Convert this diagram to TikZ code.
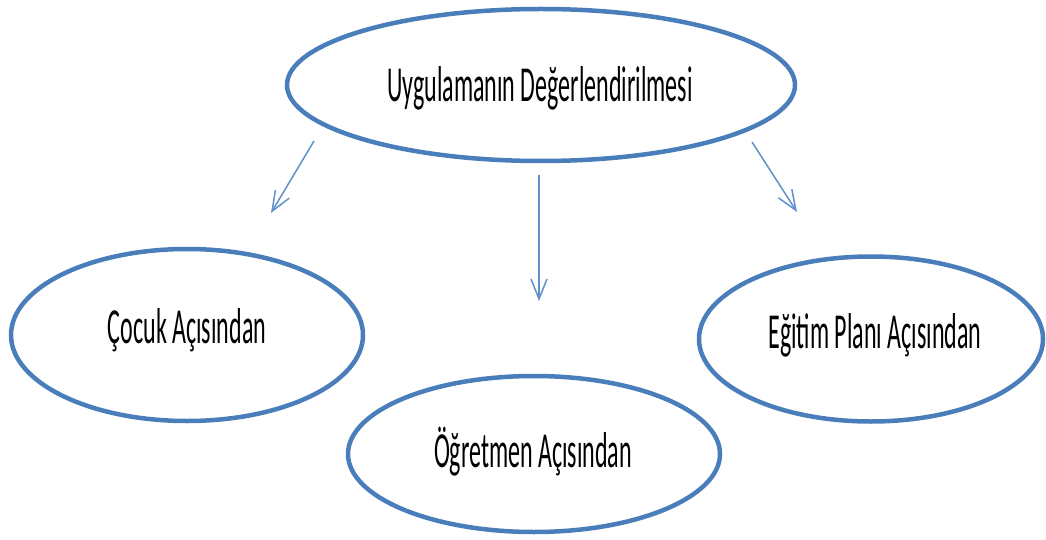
\documentclass[tikz,border=0pt]{standalone}
\usepackage{fontspec}
\setmainfont{Carlito}
\usetikzlibrary{shapes.geometric,arrows.meta}
\definecolor{ellblue}{HTML}{4A7EBB}
\definecolor{arrblue}{HTML}{6090CC}
\tikzset{
  ell/.style={ellipse, draw=ellblue, line width=4.5pt, inner sep=0pt},
  lbl/.style={font=\fontsize{24}{28}\selectfont, text=black},
  conn/.style={draw=arrblue, line width=1.5pt, -{Straight Barb[length=20pt,width=16pt,line width=1.5pt]}}
}
\newcommand{\tall}[1]{\scalebox{1}[2.1]{#1}}
\begin{document}
\begin{tikzpicture}[x=1pt,y=-1pt]
\useasboundingbox (0,0) rectangle (1046,540);
\node[ell, minimum width=508pt, minimum height=152pt] (top) at (541,85) {};
\node[ell, minimum width=352pt, minimum height=172pt] (cocuk) at (187,335) {};
\node[ell, minimum width=372pt, minimum height=156pt] (ogretmen) at (534,454) {};
\node[ell, minimum width=344pt, minimum height=165pt] (egitim) at (871,339) {};
\node[lbl] (ttop) at (540,88) {\tall{Uygulamanın Değerlendirilmesi}};
\node[lbl] (tcocuk) at (187,330) {\tall{Çocuk Açısından}};
\node[lbl] (togr) at (533,452) {\tall{Öğretmen Açısından}};
\node[lbl] (tegi) at (875,335) {\tall{Eğitim Planı Açısından}};
\coordinate (a1s) at (314,141);
\coordinate (a1e) at (271,213);
\coordinate (a2s) at (539,175);
\coordinate (a2e) at (539,301);
\coordinate (a3s) at (752,142);
\coordinate (a3e) at (797,212);
\draw[conn] (a1s) -- (a1e);
\draw[conn] (a2s) -- (a2e);
\draw[conn] (a3s) -- (a3e);
\end{tikzpicture}
\end{document}
